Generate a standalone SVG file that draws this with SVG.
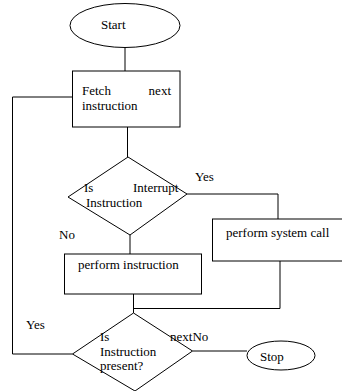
<svg xmlns="http://www.w3.org/2000/svg" width="342" height="391" viewBox="0 0 342 391" font-family="'Liberation Serif', 'DejaVu Serif', serif" font-size="13">
<style>
.s{fill:#fff;stroke:#000;stroke-width:1}
.c{fill:none;stroke:#000;stroke-width:1}
text{font-family:'Liberation Serif','DejaVu Serif',serif;font-size:13px;fill:#000}
</style>
<rect width="342" height="391" fill="#fff"/>
<g id="connectors">
<path class="c" d="M125 47.5V71"/>
<path class="c" d="M127.5 127V157"/>
<path class="c" d="M72.5 97H12.5V354H72.5"/>
<path class="c" d="M187 194H278V219"/>
<path class="c" d="M130 235V254"/>
<path class="c" d="M133.5 294V313"/>
<path class="c" d="M133.5 308.5H280V261"/>
<path class="c" d="M192.5 351H247"/>
</g>
<g id="start">
<ellipse class="s" cx="125" cy="25.5" rx="55" ry="22"/>
<text x="101" y="28.5">Start</text>
</g>
<g id="fetch">
<rect class="s" x="72.5" y="71" width="107.5" height="56"/>
<text x="82" y="95">Fetch</text>
<text x="171" y="95" text-anchor="end">next</text>
<text x="82" y="110">instruction</text>
</g>
<g id="interrupt">
<polygon class="s" points="128,157 187,194 130,235 68,197"/>
<text x="84" y="192">Is</text>
<text x="133" y="192">Interrupt</text>
<text x="86" y="206.5">Instruction</text>
</g>
<text x="195" y="181">Yes</text>
<text x="59" y="239">No</text>
<g id="syscall">
<rect class="s" x="212.5" y="219" width="140" height="42"/>
<text x="226" y="236.5">perform system call</text>
</g>
<g id="perform">
<rect class="s" x="64.5" y="254" width="137" height="40"/>
<text x="78" y="269">perform instruction</text>
</g>
<g id="present">
<polygon class="s" points="133.5,313 192.5,351 135,391 72.5,354"/>
<text x="100" y="341">Is</text>
<text x="170" y="341">nextNo</text>
<text x="100" y="355.5">Instruction</text>
<text x="100" y="369.5">present?</text>
</g>
<text x="26" y="329">Yes</text>
<g id="stop">
<ellipse class="s" cx="281" cy="355.5" rx="34" ry="14.5"/>
<text x="260" y="360.5">Stop</text>
</g>
</svg>
